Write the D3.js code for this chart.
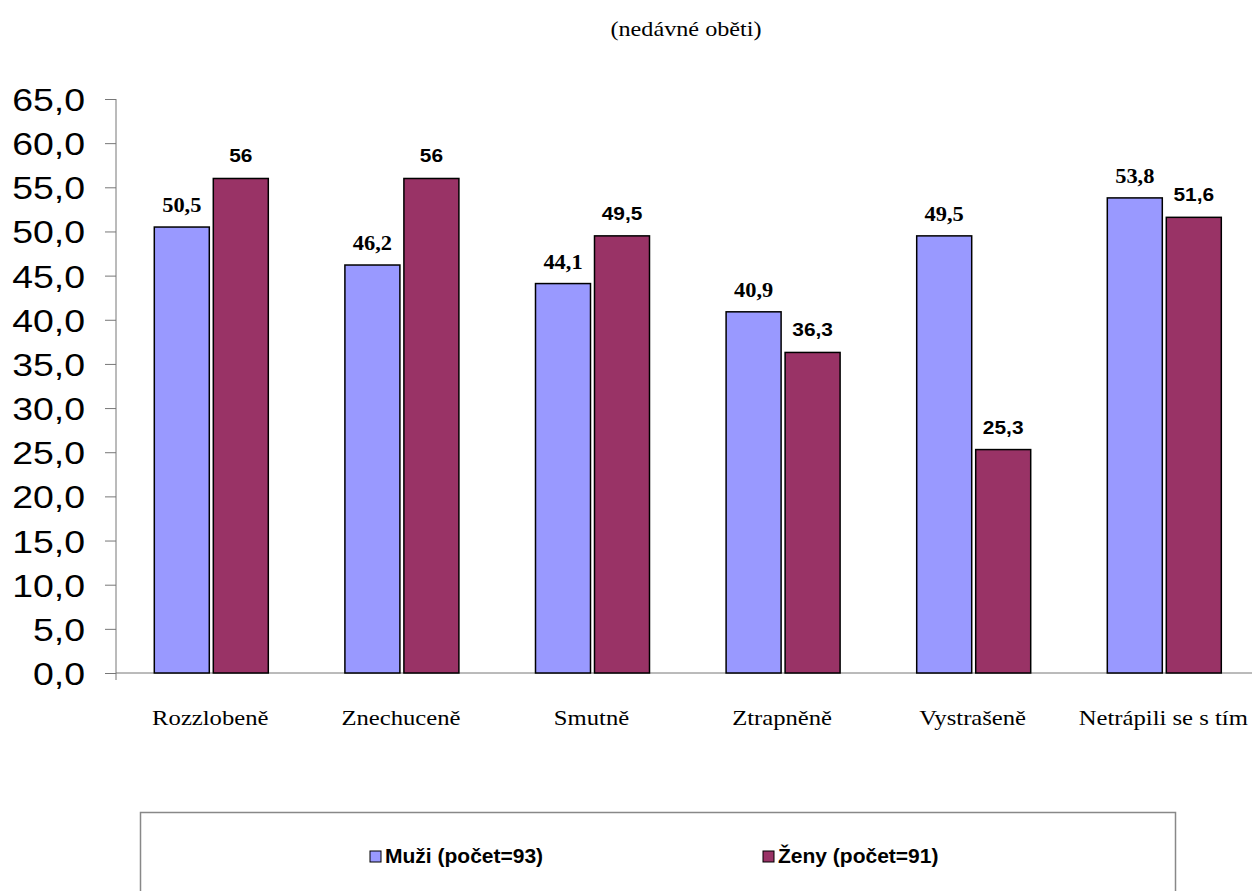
<!DOCTYPE html>
<html>
<head>
<meta charset="utf-8">
<script src="https://cdn.jsdelivr.net/npm/d3@7/dist/d3.min.js"></script>
<style>
  body { margin: 0; background: #fff; }
  svg { display: block; }
</style>
</head>
<body>
<div id="chart"></div>
<script>
(() => {
  // data
  const categories = ['Rozzlobeně', 'Znechuceně', 'Smutně', 'Ztrapněně', 'Vystrašeně', 'Netrápili se s tím']
  const muzi = [50.5, 46.2, 44.1, 40.9, 49.5, 53.8]
  const zeny = [56, 56, 49.5, 36.3, 25.3, 51.6]
  const muziLabels = ['50,5', '46,2', '44,1', '40,9', '49,5', '53,8']
  const zenyLabels = ['56', '56', '49,5', '36,3', '25,3', '51,6']
  const yTicks = [0, 5, 10, 15, 20, 25, 30, 35, 40, 45, 50, 55, 60, 65]
  const seriesNames = ['Muži (počet=93)', 'Ženy (počet=91)']
  const COLORS = ['#9999ff', '#993366']

  const W = 1252
  const H = 891
  const MARGIN = { left: 116, top: 99, bottom: 218 }
  const plotH = H - MARGIN.top - MARGIN.bottom
  const SERIF = '"Liberation Serif", "Times New Roman", serif'
  const SANS = '"Liberation Sans", Arial, sans-serif'

  // the original picture is a bit wider than tall, so stretch the text the same way
  const stretch = (sel, k) => sel.each(function () {
    const len = this.getComputedTextLength()
    d3.select(this).attr('textLength', len * k).attr('lengthAdjust', 'spacingAndGlyphs')
  })

  const svg = d3.select('#chart').append('svg')
    .attr('width', W)
    .attr('height', H)

  // title
  svg.append('text')
    .attr('x', 686).attr('y', 36)
    .attr('text-anchor', 'middle')
    .style('font-family', SERIF)
    .style('font-size', '22px')
    .text('(nedávné oběti)')
    .call(stretch, 1.1)

  const x0 = d3.scaleBand()
    .domain(categories)
    .range([MARGIN.left, MARGIN.left + 190.6 * categories.length])

  const y = d3.scaleLinear()
    .domain([0, 65])
    .range([MARGIN.top + plotH, MARGIN.top])

  // y axis
  const yAxis = d3.axisLeft(y)
    .tickValues(yTicks)
    .tickSize(11)
    .tickPadding(20)
    .tickFormat(d => d3.format('.1f')(d).replace('.', ','))

  const gy = svg.append('g')
    .attr('transform', `translate(${MARGIN.left},0)`)
    .call(yAxis)
  gy.select('.domain').attr('stroke', '#777').attr('d', `M0,${y(65)}V${y(0) + 7}`)
  gy.selectAll('.tick line').attr('stroke', '#777')
  gy.selectAll('.tick text')
    .style('font-family', SANS)
    .style('font-size', '32px')
    .attr('fill', '#000')
    .attr('dy', '0.36em')
    .call(stretch, 1.17)

  // x axis line
  svg.append('line')
    .attr('x1', MARGIN.left).attr('x2', W)
    .attr('y1', y(0)).attr('y2', y(0))
    .attr('stroke', '#777')

  // category labels
  svg.selectAll('.cat')
    .data(categories)
    .join('text')
    .attr('class', 'cat')
    .attr('x', d => x0(d) + x0.bandwidth() / 2 - 1)
    .attr('y', 725)
    .attr('text-anchor', 'middle')
    .style('font-family', SERIF)
    .style('font-size', '22px')
    .text(d => d)
    .call(stretch, 1.12)

  const barW = 55
  const gap = 4

  const groups = svg.selectAll('.grp')
    .data(categories)
    .join('g')
    .attr('class', 'grp')
    .attr('transform', d => `translate(${x0(d) + x0.bandwidth() / 2},0)`)

  // Muži bars
  groups.append('rect')
    .attr('x', -barW - gap / 2)
    .attr('width', barW)
    .attr('y', (d, i) => y(muzi[i]))
    .attr('height', (d, i) => y(0) - y(muzi[i]))
    .attr('fill', COLORS[0])
    .attr('stroke', '#000')
    .attr('stroke-width', 1.5)

  // Ženy bars
  groups.append('rect')
    .attr('x', gap / 2)
    .attr('width', barW)
    .attr('y', (d, i) => y(zeny[i]))
    .attr('height', (d, i) => y(0) - y(zeny[i]))
    .attr('fill', COLORS[1])
    .attr('stroke', '#000')
    .attr('stroke-width', 1.5)

  // value labels
  groups.append('text')
    .attr('x', -barW / 2 - gap / 2)
    .attr('y', (d, i) => y(muzi[i]) - 15)
    .attr('text-anchor', 'middle')
    .style('font-family', SERIF)
    .style('font-weight', 'bold')
    .style('font-size', '20px')
    .text((d, i) => muziLabels[i])
    .call(stretch, 1.12)

  groups.append('text')
    .attr('x', barW / 2 + gap / 2)
    .attr('y', (d, i) => y(zeny[i]) - 16)
    .attr('text-anchor', 'middle')
    .style('font-family', SANS)
    .style('font-weight', 'bold')
    .style('font-size', '19px')
    .text((d, i) => zenyLabels[i])
    .call(stretch, 1.1)

  // legend
  svg.append('rect')
    .attr('x', 140.5).attr('y', 812.5)
    .attr('width', 1035).attr('height', 100)
    .attr('fill', '#fff')
    .attr('stroke', '#888')
    .attr('stroke-width', 1.5)

  const legendX = [370, 763]
  const leg = svg.selectAll('.leg')
    .data(seriesNames)
    .join('g')
    .attr('class', 'leg')
    .attr('transform', (d, i) => `translate(${legendX[i]},851)`)

  leg.append('rect')
    .attr('width', 11).attr('height', 11)
    .attr('fill', (d, i) => COLORS[i])
    .attr('stroke', '#000')

  leg.append('text')
    .attr('x', 15).attr('y', 12)
    .style('font-family', SANS)
    .style('font-weight', 'bold')
    .style('font-size', '21px')
    .text(d => d)
})()
</script>
</body>
</html>
